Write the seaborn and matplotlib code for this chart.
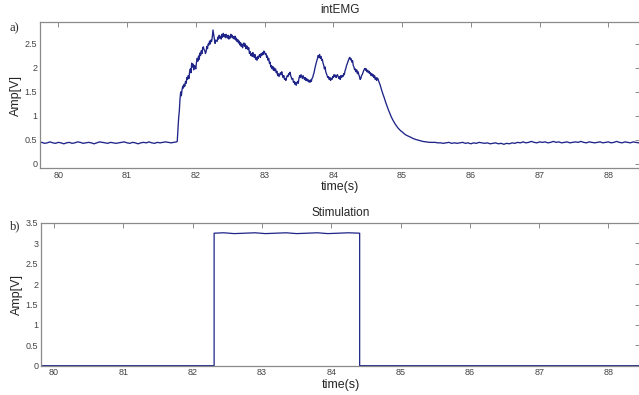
import numpy as np
import pandas as pd
import matplotlib
matplotlib.use("Agg")
import matplotlib.pyplot as plt
import seaborn as sns

# intEMG trace
# left baseline, one sample every 0.04 s
base_l_t0 = 79.72
base_l_v = [0.44, 0.45, 0.43, 0.44, 0.46, 0.44, 0.43, 0.45, 0.44, 0.42,
            0.44, 0.45, 0.43, 0.44, 0.46, 0.45, 0.43, 0.44, 0.45, 0.44,
            0.42, 0.44, 0.46, 0.45, 0.44, 0.43, 0.45, 0.44, 0.43, 0.44,
            0.45, 0.46, 0.44, 0.43, 0.45, 0.44, 0.42, 0.44, 0.45, 0.44,
            0.46, 0.44, 0.43, 0.45, 0.44, 0.45, 0.46, 0.45, 0.44, 0.45, 0.46]
# active part, one sample every 0.01 s
rise_t0 = 81.73
rise_v = [0.47, 0.70, 0.95, 1.10, 1.35, 1.50, 1.42, 1.55, 1.62, 1.58,
          1.66, 1.62, 1.72, 1.68, 1.80, 1.76, 1.84, 1.78, 1.92, 1.98,
          1.90, 2.10, 2.02, 2.08, 1.96, 2.05, 2.03, 1.98, 2.12, 2.20,
          2.14, 2.25, 2.18, 2.31, 2.26, 2.36, 2.30, 2.42, 2.44, 2.38,
          2.36, 2.30, 2.34, 2.45, 2.40, 2.50, 2.48, 2.56, 2.50, 2.58,
          2.55, 2.65, 2.79, 2.70, 2.60, 2.51, 2.58]
plateau_t0 = 82.30
plateau_v = [2.55, 2.64, 2.60, 2.68, 2.62, 2.66, 2.60, 2.70, 2.64, 2.72,
             2.66, 2.69, 2.63, 2.70, 2.65, 2.62, 2.68, 2.60, 2.66, 2.62,
             2.70, 2.64, 2.68, 2.62, 2.65, 2.60, 2.66, 2.58, 2.62, 2.55,
             2.59, 2.52, 2.56, 2.48, 2.53, 2.45, 2.50, 2.42, 2.48, 2.52,
             2.45, 2.50, 2.40, 2.46, 2.44, 2.38, 2.42, 2.30, 2.34, 2.26,
             2.30, 2.24, 2.32, 2.26, 2.22, 2.28, 2.18, 2.22, 2.16, 2.24, 2.20]
dip_t0 = 82.91
dip_v = [2.26, 2.28, 2.22, 2.30, 2.26, 2.32, 2.28, 2.35, 2.33, 2.28,
         2.30, 2.22, 2.25, 2.16, 2.20, 2.10, 2.12, 2.02, 2.05, 1.98,
         2.03, 1.95, 2.00, 1.94, 1.98, 1.90, 1.93, 1.84, 1.88, 1.82,
         1.86, 1.90, 1.86, 1.92, 1.85, 1.80, 1.84, 1.76, 1.78, 1.74,
         1.80, 1.84, 1.82, 1.88, 1.86, 1.91, 1.84, 1.80, 1.76, 1.78,
         1.70, 1.72, 1.66, 1.70, 1.64, 1.69, 1.72, 1.68, 1.78, 1.84,
         1.80, 1.86, 1.82, 1.78, 1.84, 1.80, 1.76, 1.80, 1.74, 1.78,
         1.73, 1.76, 1.71, 1.74, 1.70, 1.75, 1.72, 1.78, 1.80]
bump_t0 = 83.70
bump_v = [1.86, 1.90, 1.98, 2.04, 2.10, 2.15, 2.20, 2.26, 2.22, 2.28,
          2.20, 2.24, 2.16, 2.18, 2.10, 2.06, 1.98, 2.02, 1.92, 1.88,
          1.84, 1.80, 1.82, 1.76, 1.80, 1.74, 1.78, 1.76, 1.82, 1.80,
          1.86, 1.82, 1.85, 1.80, 1.84, 1.86, 1.82, 1.78, 1.82, 1.76,
          1.84, 1.80, 1.84]
late_t0 = 84.13
late_v = [1.82, 1.88, 1.86, 1.94, 1.98, 2.04, 2.08, 2.12, 2.16, 2.20,
          2.22, 2.17, 2.19, 2.12, 2.15, 2.05, 2.02, 1.96, 1.98, 1.92,
          1.96, 1.88, 1.92, 1.86, 1.82, 1.76, 1.78, 1.84, 1.86, 1.90,
          1.94, 1.97, 1.99, 1.95, 1.98, 1.92, 1.95, 1.90, 1.93, 1.88,
          1.90, 1.84, 1.88, 1.83, 1.86, 1.80, 1.84, 1.76, 1.80, 1.74,
          1.79, 1.77, 1.72]
# decay after the stimulation ends
decay_t = [84.68, 84.70, 84.72, 84.74, 84.76, 84.78, 84.80, 84.82, 84.84, 84.86,
           84.88, 84.90, 84.92, 84.94, 84.96, 84.98, 85.00, 85.03, 85.06, 85.09,
           85.12, 85.16, 85.20, 85.25, 85.30, 85.35, 85.40, 85.44]
decay_v = [1.65, 1.55, 1.46, 1.38, 1.29, 1.21, 1.13, 1.06, 0.99, 0.93,
           0.88, 0.83, 0.79, 0.75, 0.72, 0.69, 0.67, 0.63, 0.60, 0.58,
           0.56, 0.53, 0.51, 0.49, 0.47, 0.46, 0.45, 0.45]
# right baseline, one sample every 0.04 s
base_r_t0 = 85.48
base_r_v = [0.45, 0.44, 0.44, 0.43, 0.44, 0.45, 0.43, 0.44, 0.43, 0.44,
            0.45, 0.43, 0.44, 0.42, 0.44, 0.43, 0.45, 0.44, 0.43, 0.44,
            0.42, 0.43, 0.44, 0.42, 0.43, 0.41, 0.43, 0.42, 0.44, 0.43,
            0.45, 0.44, 0.46, 0.44, 0.45, 0.47, 0.45, 0.44, 0.46, 0.45,
            0.46, 0.44, 0.45, 0.47, 0.45, 0.46, 0.44, 0.45, 0.46, 0.44,
            0.45, 0.46, 0.45, 0.47, 0.45, 0.44, 0.46, 0.45, 0.44, 0.45,
            0.46, 0.44, 0.45, 0.46, 0.44, 0.45, 0.47, 0.45, 0.44, 0.46,
            0.45, 0.44, 0.46, 0.45, 0.44, 0.46]

# stimulation pulse
stim_t = [79.70, 82.31, 82.31, 82.45, 82.60, 82.75, 82.90, 83.05, 83.20, 83.35,
          83.50, 83.65, 83.80, 83.95, 84.10, 84.25, 84.41, 84.41, 88.50]
stim_v = [0.0, 0.0, 3.25, 3.26, 3.24, 3.25, 3.26, 3.24, 3.25, 3.26,
          3.24, 3.25, 3.26, 3.24, 3.25, 3.26, 3.25, 0.0, 0.0]

emg_xticks = [80, 81, 82, 83, 84, 85, 86, 87, 88]
emg_yticks = [0, 0.5, 1, 1.5, 2, 2.5]
emg_ylabels = ["0", "0.5", "1", "1.5", "2", "2.5"]
stim_yticks = [0, 0.5, 1, 1.5, 2, 2.5, 3, 3.5]
stim_ylabels = ["0", "0.5", "1", "1.5", "2", "2.5", "3", "3.5"]


def seg(t0, vals, step):
    return [round(t0 + step * i, 3) for i in range(len(vals))]


emg = pd.DataFrame({
    "t": (seg(base_l_t0, base_l_v, 0.04) + seg(rise_t0, rise_v, 0.01)
          + seg(plateau_t0 + 0.01, plateau_v, 0.01) + seg(dip_t0 + 0.01, dip_v, 0.01)
          + seg(bump_t0 + 0.01, bump_v, 0.01) + seg(late_t0 + 0.01, late_v, 0.01)
          + decay_t + seg(base_r_t0, base_r_v, 0.04)),
    "v": base_l_v + rise_v + plateau_v + dip_v + bump_v + late_v + decay_v + base_r_v,
})
stim = pd.DataFrame({"t": stim_t, "v": stim_v})

sns.set_style("white")
plt.rcParams["font.family"] = ["Liberation Sans", "DejaVu Sans"]

line_col = "#1e2488"
spine_col = "#8a8a8a"

fig = plt.figure(figsize=(6.39, 3.95), dpi=100)
ax1 = fig.add_axes([40 / 639, 1 - 168.3 / 395, 600 / 639, 146 / 395])
ax2 = fig.add_axes([41 / 639, 1 - 365.7 / 395, 599 / 639, 142.7 / 395])

sns.lineplot(data=emg, x="t", y="v", ax=ax1, estimator=None, sort=False,
             color=line_col, linewidth=0.95)
sns.lineplot(data=stim, x="t", y="v", ax=ax2, estimator=None, sort=False,
             color=line_col, linewidth=0.9)

ax1.set_xlim(79.734, 88.46)
ax1.set_ylim(-0.09, 2.95)
ax1.set_yticks(emg_yticks, emg_ylabels)
ax1.set_title("intEMG", fontsize=8.5, pad=7)

ax2.set_xlim(79.812, 88.455)
ax2.set_ylim(0, 3.5)
ax2.set_yticks(stim_yticks, stim_ylabels)
ax2.set_title("Stimulation", fontsize=8.5, pad=5)

for ax in (ax1, ax2):
    ax.set_xticks(emg_xticks, [str(x) for x in emg_xticks])
    ax.set_xlabel("time(s)", fontsize=9, labelpad=1)
    ax.set_ylabel("Amp[V]", fontsize=9, labelpad=2)
    ax.tick_params(direction="in", top=True, right=True, length=3.5, width=0.7,
                   color=spine_col, labelcolor="#444444", labelsize=6.5, pad=2)
    for s in ax.spines.values():
        s.set_color(spine_col)
        s.set_linewidth(0.9)

fig.text(10 / 639, 1 - 28 / 395, "a)", fontsize=9, family="Liberation Serif", va="center")
fig.text(10 / 639, 1 - 226 / 395, "b)", fontsize=9, family="Liberation Serif", va="center")

fig.savefig("out.png", dpi=100, facecolor="white")
